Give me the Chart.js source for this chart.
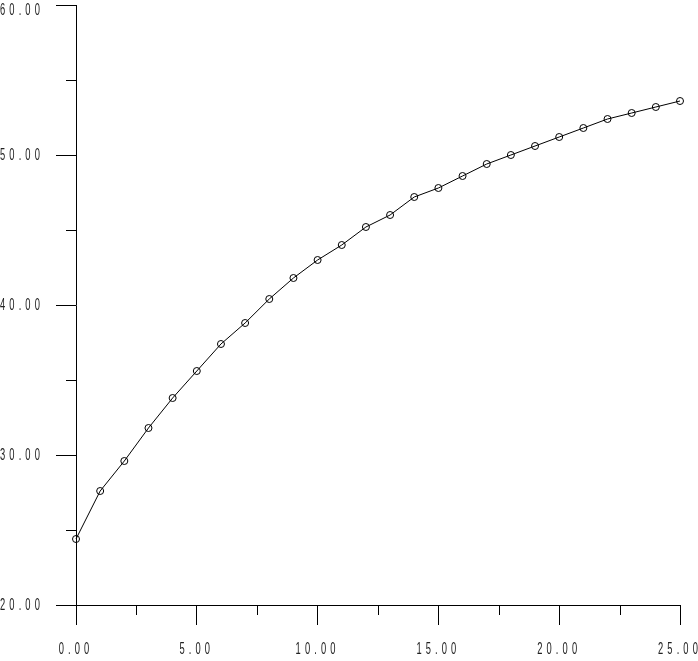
<!DOCTYPE html>
<html>
<head>
<meta charset="utf-8">
<script src="https://cdn.jsdelivr.net/npm/chart.js@4/dist/chart.umd.min.js"></script>
<style>
    html, body { margin: 0; padding: 0; background: #fff; }
    #wrap { width: 698px; height: 661px; position: relative; }
</style>
</head>
<body>
<div id="wrap"><canvas id="curve-chart"></canvas></div>
<script>
// 曲線資料
const xValues = [0, 1, 2, 3, 4, 5, 6, 7, 8, 9, 10, 11, 12, 13, 14, 15, 16, 17, 18, 19, 20, 21, 22, 23, 24, 25];
const yValues = [24.4, 27.6, 29.6, 31.8, 33.8, 35.6, 37.4, 38.8, 40.4, 41.8, 43.0, 44.0, 45.2, 46.0, 47.2, 47.8,
    48.6, 49.4, 50.0, 50.6, 51.2, 51.8, 52.4, 52.8, 53.2, 53.6];

// 座標軸範圍與刻度
const xRange = [0, 25];
const xStep = 2.5;
const xLabelEvery = 5;
const yRange = [20, 60];
const yStep = 5;
const yLabelEvery = 10;

const labelFont = { family: '"Liberation Sans", Arial, sans-serif', size: 17 };
const textSqueeze = 0.55; // 字型水平壓縮

/**
 * 窄長字型加字距（模仿舊式繪圖字型）
 */
const narrowTextPlugin = {
    id: 'narrowText',
    beforeDraw(chart) {
        const c = chart.ctx;
        const orig = c.fillText;
        c.__origFillText = orig;
        c.letterSpacing = '7.5px';
        c.fillText = function (text, x, y, maxWidth) {
            // 頂端標籤不要被切掉
            const absY = this.getTransform().f + y;
            if (this.textBaseline === 'middle' && absY < 10) {
                y += 10 - absY;
            }
            this.save();
            this.translate(x, y);
            this.scale(textSqueeze, 1);
            orig.call(this, text, 0, 0);
            this.restore();
        };
    },
    afterDraw(chart) {
        const c = chart.ctx;
        if (c.__origFillText) {
            c.fillText = c.__origFillText;
        }
        c.letterSpacing = '0px';
    },
};

/**
 * 畫短的次刻度
 */
const minorTickPlugin = {
    id: 'minorTicks',
    afterDraw(chart) {
        const { ctx, scales } = chart;
        const x = scales.x;
        const y = scales.y;
        ctx.save();
        ctx.strokeStyle = '#000';
        ctx.lineWidth = 1;
        ctx.beginPath();
        x.ticks.filter((t) => t.value % xLabelEvery !== 0).forEach((t) => {
            const px = Math.round(x.getPixelForValue(t.value)) + 0.5;
            ctx.moveTo(px, x.top);
            ctx.lineTo(px, x.top + 10);
        });
        y.ticks.filter((t) => t.value % yLabelEvery !== 0).forEach((t) => {
            const py = Math.round(y.getPixelForValue(t.value)) + 0.5;
            ctx.moveTo(y.right - 10, py);
            ctx.lineTo(y.right, py);
        });
        ctx.stroke();
        ctx.restore();
    },
};

const ctx = document.getElementById('curve-chart');

new Chart(ctx, {
    type: 'line',
    data: {
        datasets: [
            {
                data: xValues.map((v, i) => ({ x: v, y: yValues[i] })),
                borderColor: '#000',
                borderWidth: 1,
                tension: 0,
                clip: false,
                pointRadius: 3.5,
                pointBorderWidth: 1,
                pointBorderColor: '#000',
                pointBackgroundColor: 'rgba(0,0,0,0)',
            },
        ],
    },
    options: {
        responsive: true,
        maintainAspectRatio: false,
        animation: false,
        layout: {
            padding: { top: 5, right: 18, bottom: 0, left: 0 },
        },
        plugins: {
            legend: { display: false },
            tooltip: { enabled: false },
        },
        scales: {
            x: {
                type: 'linear',
                min: xRange[0],
                max: xRange[1],
                border: { display: true, color: '#000', width: 1 },
                grid: {
                    drawOnChartArea: false,
                    tickLength: 20,
                    tickColor: (c) => (c.tick && c.tick.value % xLabelEvery === 0 ? '#000' : 'rgba(0,0,0,0)'),
                },
                ticks: {
                    stepSize: xStep,
                    autoSkip: false,
                    maxRotation: 0,
                    padding: 14,
                    color: '#222',
                    font: labelFont,
                    callback: (v) => (v % xLabelEvery === 0 ? v.toFixed(2) : ''),
                },
                afterFit(scale) {
                    scale.height = 56;
                    scale.paddingLeft = 0;
                    scale.paddingRight = 0;
                },
            },
            y: {
                type: 'linear',
                min: yRange[0],
                max: yRange[1],
                border: { display: true, color: '#000', width: 1 },
                grid: {
                    drawOnChartArea: false,
                    tickLength: 20,
                    tickColor: (c) => (c.tick && c.tick.value % yLabelEvery === 0 ? '#000' : 'rgba(0,0,0,0)'),
                },
                ticks: {
                    stepSize: yStep,
                    autoSkip: false,
                    padding: 12,
                    color: '#222',
                    font: labelFont,
                    callback: (v) => (v % yLabelEvery === 0 ? v.toFixed(2) : ''),
                },
                afterFit(scale) {
                    scale.width = 76;
                    scale.paddingTop = 0;
                    scale.paddingBottom = 0;
                },
            },
        },
    },
    plugins: [narrowTextPlugin, minorTickPlugin],
});
</script>
</body>
</html>
